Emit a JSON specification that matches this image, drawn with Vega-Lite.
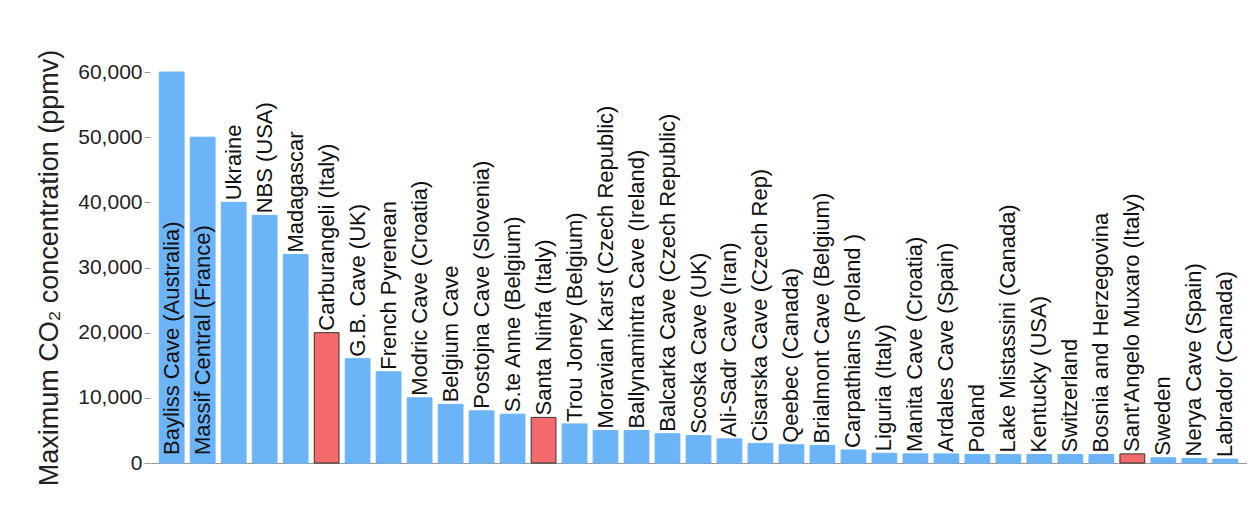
{
"$schema":"https://vega.github.io/schema/vega-lite/v6.json",
"autosize":{"type":"none"},
"padding":{"left":150,"top":72,"right":0,"bottom":56},
"width":1097,"height":391,
"background":"white",
"config":{"view":{"stroke":null},"font":"Liberation Sans"},
"data":{"values":[
{"site":"Bayliss Cave (Australia)","v":60000,"h":"no","inside":true},
{"site":"Massif Central (France)","v":50000,"h":"no","inside":true},
{"site":"Ukraine","v":40000,"h":"no"},
{"site":"NBS (USA)","v":38000,"h":"no"},
{"site":"Madagascar","v":32000,"h":"no"},
{"site":"Carburangeli (Italy)","v":20000,"h":"yes"},
{"site":"G.B. Cave (UK)","v":16000,"h":"no"},
{"site":"French Pyrenean","v":14000,"h":"no"},
{"site":"Modric Cave (Croatia)","v":10000,"h":"no"},
{"site":"Belgium Cave","v":9000,"h":"no"},
{"site":"Postojna Cave (Slovenia)","v":8000,"h":"no"},
{"site":"S.te Anne (Belgium)","v":7500,"h":"no"},
{"site":"Santa Ninfa (Italy)","v":7000,"h":"yes"},
{"site":"Trou Joney (Belgium)","v":6000,"h":"no"},
{"site":"Moravian Karst (Czech Republic)","v":5000,"h":"no"},
{"site":"Ballynamintra Cave (Ireland)","v":5000,"h":"no"},
{"site":"Balcarka Cave (Czech Republic)","v":4500,"h":"no"},
{"site":"Scoska Cave (UK)","v":4200,"h":"no"},
{"site":"Ali-Sadr Cave (Iran)","v":3700,"h":"no"},
{"site":"Cisarska Cave (Czech Rep)","v":3000,"h":"no"},
{"site":"Qeebec (Canada)","v":2800,"h":"no"},
{"site":"Brialmont Cave (Belgium)","v":2700,"h":"no"},
{"site":"Carpathians (Poland )","v":2000,"h":"no"},
{"site":"Liguria (Italy)","v":1500,"h":"no"},
{"site":"Manita Cave (Croatia)","v":1400,"h":"no"},
{"site":"Ardales Cave (Spain)","v":1400,"h":"no"},
{"site":"Poland","v":1300,"h":"no"},
{"site":"Lake Mistassini (Canada)","v":1300,"h":"no"},
{"site":"Kentucky (USA)","v":1300,"h":"no"},
{"site":"Switzerland","v":1300,"h":"no"},
{"site":"Bosnia and Herzegovina","v":1300,"h":"no"},
{"site":"Sant'Angelo Muxaro (Italy)","v":1400,"h":"yes"},
{"site":"Sweden","v":800,"h":"no"},
{"site":"Nerya Cave (Spain)","v":700,"h":"no"},
{"site":"Labrador (Canada)","v":600,"h":"no"}
]},
"encoding":{
"x":{"field":"site","type":"nominal","sort":null,"scale":{"paddingInner":0.2,"paddingOuter":0.3},"axis":{"labels":false,"ticks":false,"title":null,"domainColor":"#999","domainWidth":1}},
"y":{"field":"v","type":"quantitative","scale":{"domain":[0,60000],"nice":false},"axis":{"values":[0,10000,20000,30000,40000,50000,60000],"labelExpr":"format(datum.value, ',.0f')","labelFontSize":21,"labelColor":"#222","tickColor":"#999","tickSize":6,"domain":false,"grid":false,"title":"Maximum CO₂ concentration (ppmv)","titleFontSize":27,"titleFontWeight":"normal","titleColor":"#222","titlePadding":14}}
},
"layer":[
{"mark":{"type":"bar"},"encoding":{
"color":{"field":"h","type":"nominal","scale":{"domain":["no","yes"],"range":["#6cb4f8","#f56a6a"]},"legend":null},
"stroke":{"field":"h","type":"nominal","scale":{"domain":["no","yes"],"range":["#6cb4f8","#333333"]},"legend":null}}},
{"transform":[{"filter":"!datum.inside"}],"mark":{"type":"text","angle":270,"align":"left","baseline":"middle","fontSize":22,"dx":2,"color":"#111"},"encoding":{"text":{"field":"site"}}},
{"transform":[{"filter":"datum.inside"}],"mark":{"type":"text","angle":270,"align":"left","baseline":"middle","fontSize":22,"dx":8,"color":"#111"},"encoding":{"y":{"datum":0},"text":{"field":"site"}}}
]
}
